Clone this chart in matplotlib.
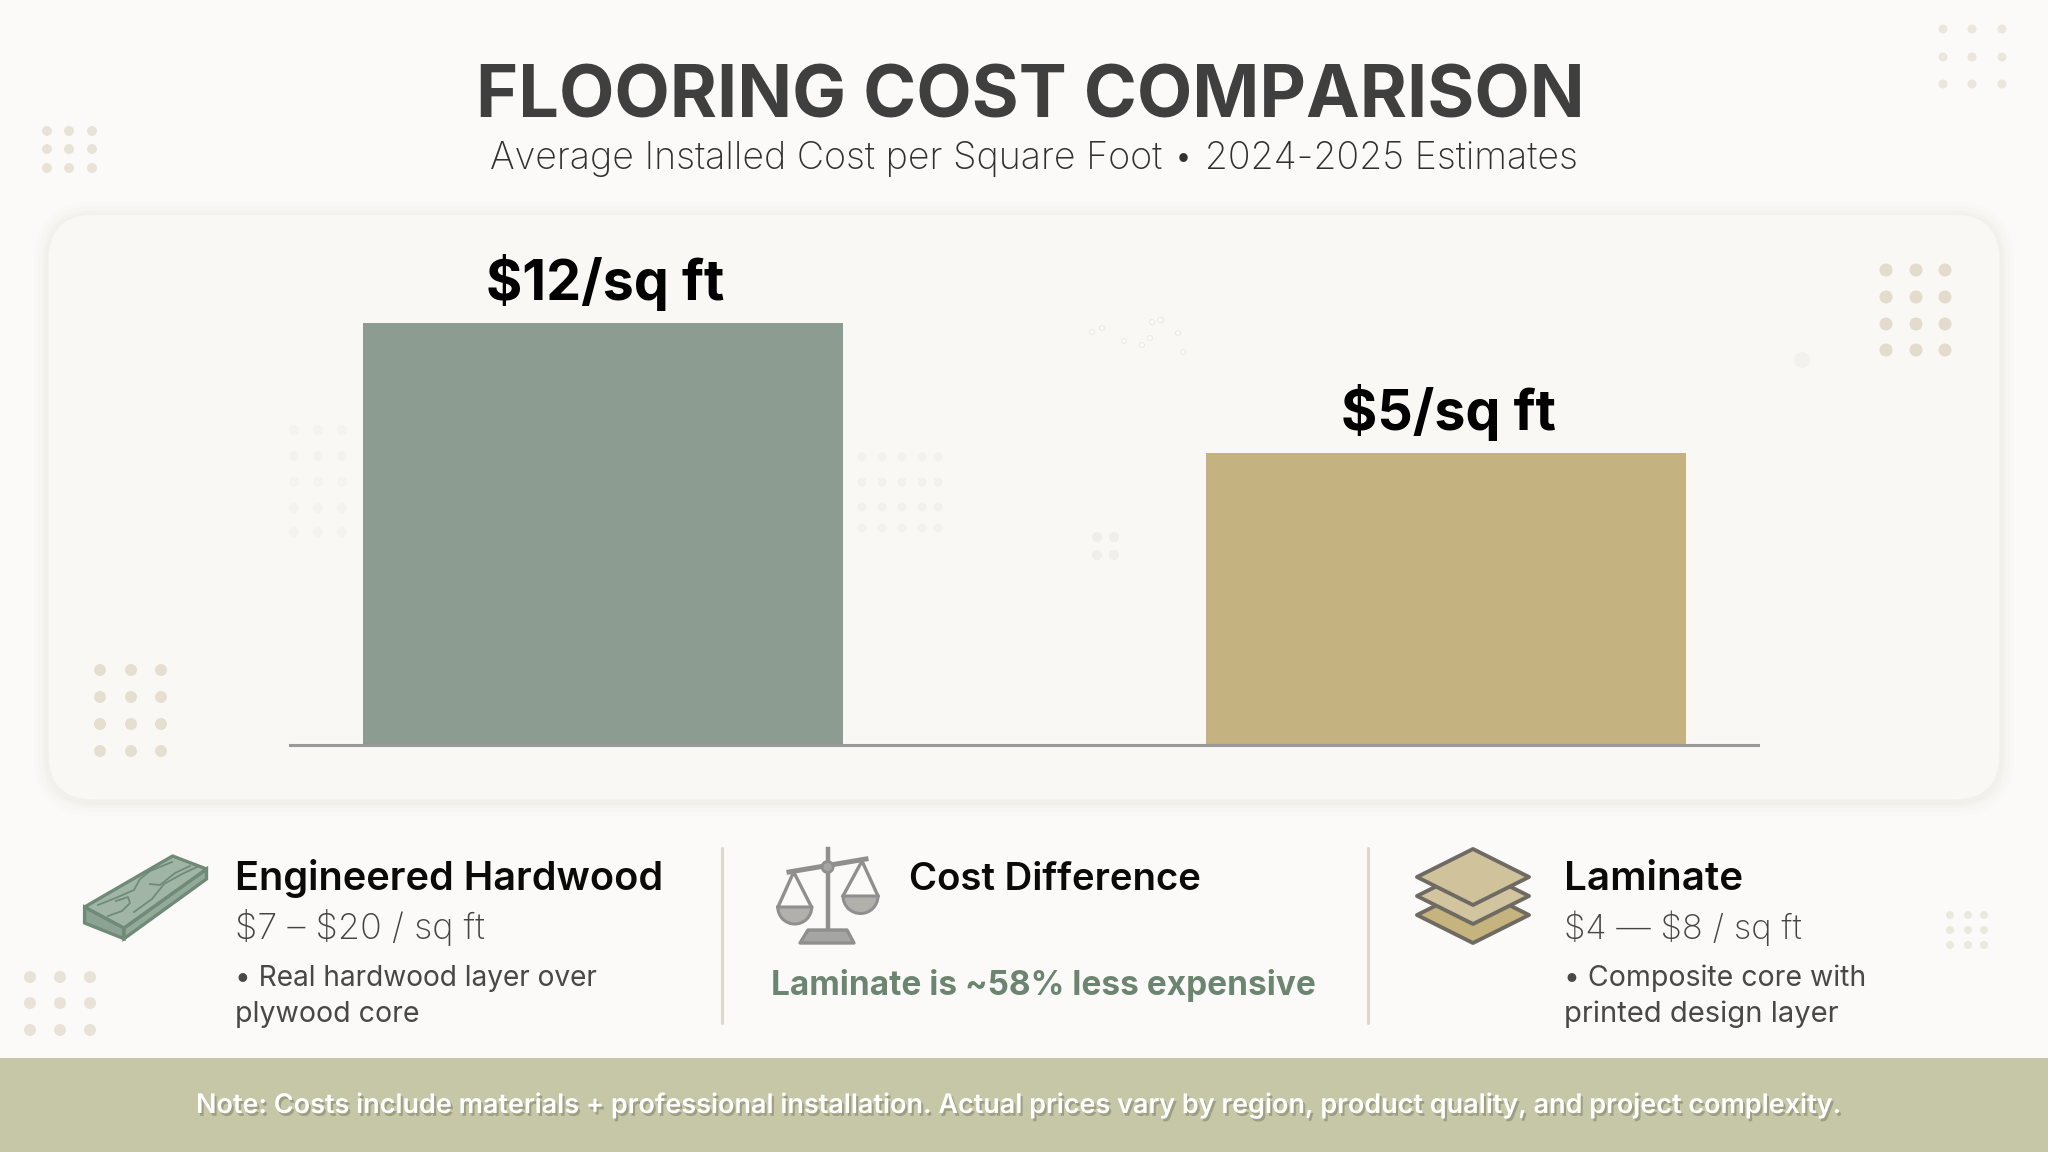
import matplotlib
matplotlib.use('Agg')
import matplotlib.pyplot as plt
import matplotlib.patheffects as pe
from matplotlib.patches import FancyBboxPatch, Polygon, Circle, Wedge, Rectangle

# Chart data. The bars in the picture are not drawn to scale with their labels,
# so heights are what the picture shows (in units where the tall bar is 12)
categories = ['Engineered Hardwood', 'Laminate']
bar_heights = [12.0, 8.3]
price_labels = ['$12/sq ft', '$5/sq ft']
bar_colors = ['#8c9c90', '#c4b280']
ranges = ['$7 \u2013 $20 / sq ft', '$4 \u2014 $8 / sq ft']
notes = [['\u2022 Real hardwood layer over', 'plywood core'],
         ['\u2022 Composite core with', 'printed design layer']]
title = 'FLOORING COST COMPARISON'
subtitle = 'Average Installed Cost per Square Foot \u2022 2024-2025 Estimates'
callout_head = 'Cost Difference'
callout = 'Laminate is ~58% less expensive'
footnote = 'Note: Costs include materials + professional installation. Actual prices vary by region, product quality, and project complexity.'

plt.rcParams['font.family'] = ['Inter', 'DejaVu Sans']
BG = '#fbfaf8'

fig = plt.figure(figsize=(20.48, 11.52), dpi=100, facecolor=BG)
bg = fig.add_axes([0, 0, 1, 1])
bg.set_xlim(0, 2048)
bg.set_ylim(1152, 0)
bg.axis('off')


def label(x0, x1, y, s, color, weight='normal', **kw):
    # place text on baseline y and scale it so it spans x0..x1 pixels
    t = bg.text(x0, y, s, color=color, fontweight=weight, fontsize=20, va='baseline', ha='left',
                zorder=8, parse_math=False, **kw)
    w = t.get_window_extent(fig.canvas.get_renderer()).width
    t.set_fontsize(20 * (x1 - x0) / w)
    return t


def dots(xs, ys, r, color, alpha=1.0, z=2):
    for yy in ys:
        for xx in xs:
            bg.add_patch(Circle((xx, yy), r, fc=color, ec='none', alpha=alpha, zorder=z))


# card with a soft shadow
for grow, a in [(14, 0.010), (10, 0.014), (6, 0.018), (3, 0.024)]:
    bg.add_patch(FancyBboxPatch((48 - grow, 214 - grow + 2), 1952 + 2 * grow, 586 + 2 * grow,
                                boxstyle='round,pad=0,rounding_size=%d' % (46 + grow),
                                fc='#8a7f60', ec='none', alpha=a, zorder=1))
bg.add_patch(FancyBboxPatch((48, 214), 1952, 586, boxstyle='round,pad=0,rounding_size=46',
                            fc='#f9f8f5', ec='#f3f1ea', lw=1, zorder=1.5))

# decorative dot groups
dots([47, 69, 92], [131, 149, 168], 5, '#e8e3d6')
dots([1943, 1972, 2002], [29, 57, 84], 4.5, '#ebe7dc')
dots([1886, 1916, 1945], [270, 297, 324, 350], 6.5, '#e3dccd')
dots([100, 131, 161], [670, 697, 724, 751], 6, '#e6dfd0')
dots([30, 60, 90], [977, 1003, 1030], 6, '#e8e3d6')
dots([1950, 1968, 1984], [915, 930, 945], 4, '#ebe8dd')
dots([294, 318, 342], [430, 456, 482, 508, 532], 5, '#f5f3ef')
dots([862, 882, 902, 922, 938], [457, 482, 507, 528], 4.5, '#f3f1ec')
dots([1097, 1114], [537, 555], 5, '#f0eee8')
dots([1802], [360], 8, '#f3f1ec')
for sx, sy in [(1092, 332), (1102, 328), (1124, 341), (1142, 345), (1150, 338), (1152, 322),
               (1162, 320), (1178, 333), (1183, 352), (1160, 320)]:
    bg.add_patch(Circle((sx, sy), 2.4, fc='#ffffff', ec='#ebe7dc', lw=0.7, zorder=2))

# bars
ax = fig.add_axes([290 / 2048, 1 - 745 / 1152, 1468 / 2048, 531 / 1152], facecolor='none')
ax.set_xlim(-0.3713, 1.370)
ax.set_ylim(0, 15.1)
xpos = range(len(categories))
ax.bar(xpos, bar_heights, width=0.569, color=bar_colors, zorder=2)
for i, h in enumerate(bar_heights):
    ax.annotate(price_labels[i], (i, h), xytext=(1.5, 16.5), textcoords='offset points', ha='center',
                va='baseline', fontsize=40, fontweight='bold', color='black', parse_math=False)
for side in ['top', 'right', 'left']:
    ax.spines[side].set_visible(False)
ax.spines['bottom'].set_color('#999999')
ax.spines['bottom'].set_linewidth(2.2)
ax.set_xticks([])
ax.set_yticks([])

# heading
label(476, 1586, 117, title, '#3f3f3f', 'bold')
label(490, 1576, 169, subtitle, '#303030', 'light')

# bottom strip
for x in [722, 1368]:
    bg.plot([x, x], [848, 1023], color='#ded6c7', lw=2.2, zorder=3, solid_capstyle='round')

label(235, 665, 890, categories[0], '#0a0a0a', 'semibold')
label(235, 485, 939, ranges[0], '#444444', 'light')
label(235, 599, 986, notes[0][0], '#484848')
label(235, 419, 1022, notes[0][1], '#484848')

label(909, 1202, 890, callout_head, '#0a0a0a', 'semibold')
label(771, 1315, 995, callout, '#6b8570', 'bold')

label(1564, 1743, 890, categories[1], '#0a0a0a', 'semibold')
label(1564, 1802, 939, ranges[1], '#444444', 'light')
label(1564, 1866, 986, notes[1][0], '#484848')
label(1564, 1838, 1022, notes[1][1], '#484848')

# footer band
bg.add_patch(Rectangle((0, 1058), 2048, 94, fc='#c5c7a7', ec='none', zorder=3))
t = label(196, 1844, 1113, footnote, 'white', 'semibold')
t.set_path_effects([pe.withSimplePatchShadow(offset=(1.5, -2), shadow_rgbFace='#77775f', alpha=0.5)])

# plank icon
edge = '#6f8b78'
bg.add_patch(Polygon([(84.6, 907), (124, 928), (124, 938.7), (84.6, 923)], fc='#8ca394', ec=edge, lw=2.4, zorder=4))
bg.add_patch(Polygon([(124, 928), (206.5, 869), (206.5, 879), (124, 938.7)], fc='#93a99a', ec=edge, lw=2.4, zorder=4))
bg.add_patch(Polygon([(172.6, 856), (206.5, 869), (124, 928), (84.6, 907)], fc='#a0b5a6', ec=edge, lw=2.4, zorder=4, joinstyle='round'))
for gx, gy in [([98, 118, 134, 140, 150, 172], [905, 897, 890, 879, 871, 862]),
               ([108, 122, 130, 128, 116], [916, 911, 903, 897, 901]),
               ([134, 152, 164, 182, 197], [912, 899, 884, 874, 867]),
               ([150, 160, 175, 190], [884, 885, 873, 866])]:
    bg.plot(gx, gy, color=edge, lw=1.3, zorder=5)

# scales icon
grey = '#8f8f8f'
bg.plot([827.6, 827.6], [849, 930], color=grey, lw=3.2, zorder=4)
bg.plot([789, 866], [872, 859], color=grey, lw=3.6, zorder=4)
bg.add_patch(Circle((827.6, 867), 5.5, fc='#a5a5a3', ec=grey, lw=2, zorder=5))
for apex, lx, rx, py, r in [(793.7, 778, 811.5, 907, 17), (862, 843, 878, 896, 17.5)]:
    ay = 872 if apex < 800 else 861
    bg.plot([lx, apex, rx], [py, ay, py], color=grey, lw=2.4, zorder=4)
    cx = (lx + rx) / 2
    bg.add_patch(Wedge((cx, py), r, 0, 180, fc='#b2b0ab', ec=grey, lw=2.2, zorder=4))
bg.add_patch(Polygon([(808, 930), (847, 930), (854, 943), (800, 943)], fc='#a5a5a3', ec=grey, lw=2.4, zorder=4, joinstyle='round'))

# layers icon
for shift, col in [(38, '#c6b47e'), (19, '#d2c49f'), (0, '#d0c39c')]:
    bg.add_patch(Polygon([(1473, 849 + shift), (1529, 877 + shift), (1473, 905 + shift), (1417, 877 + shift)],
                         fc=col, ec='#6f6b62', lw=2.8, zorder=4, joinstyle='round'))

fig.savefig('out.png', dpi=100, facecolor=BG)
